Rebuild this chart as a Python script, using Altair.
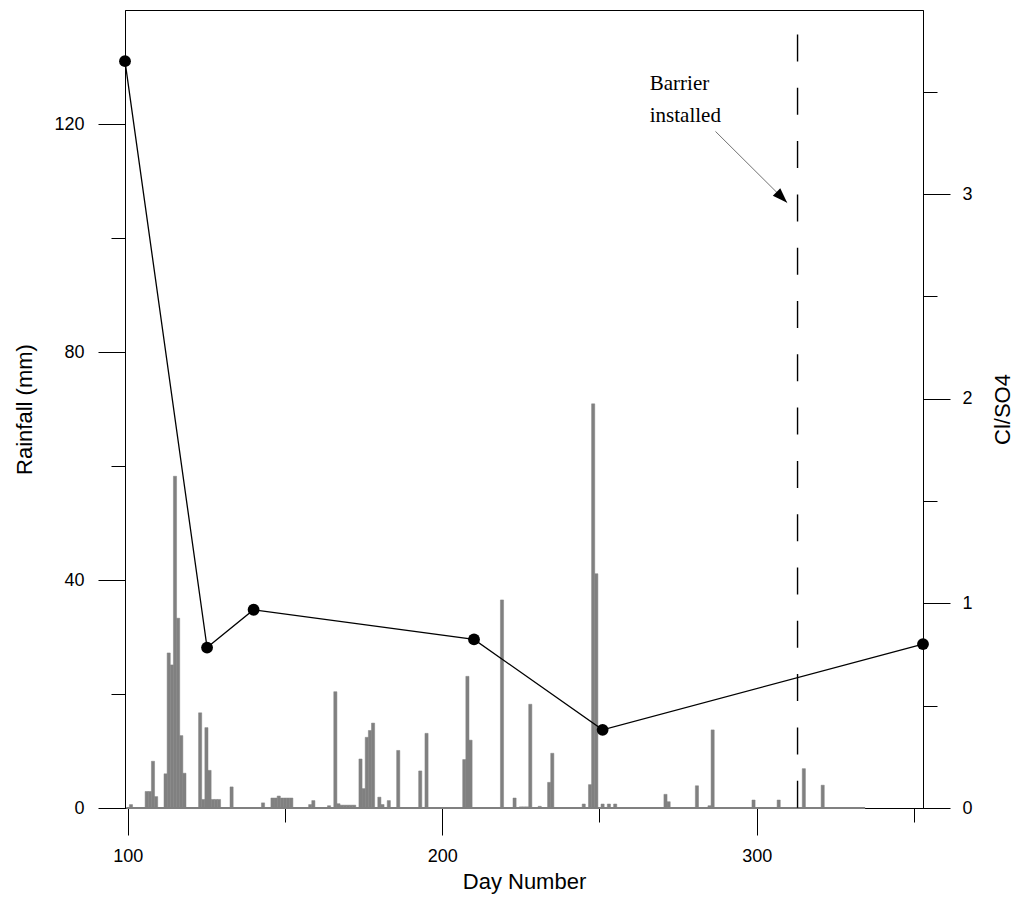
import altair as alt
import pandas as pd

# ---------------- data ----------------
rain_days = [101, 106, 107, 108, 109, 112, 113, 114, 115, 116, 117, 118,
             123, 124, 125, 126, 127, 128, 129, 133, 143, 146, 147, 148,
             149, 150, 151, 152, 158, 159, 164, 166, 167, 168, 169, 170,
             171, 172, 174, 175, 176, 177, 178, 180, 181, 183, 186, 193,
             195, 207, 208, 209, 219, 223, 225, 226, 227, 228, 231, 234,
             235, 245, 247, 248, 249, 251, 253, 255, 271, 272, 281, 285,
             286, 299, 307, 315, 321]
rain_mm = [0.6, 2.9, 2.9, 8.2, 2.0, 6.0, 27.2, 25.1, 58.2, 33.3, 12.7, 6.1,
           16.7, 1.5, 14.1, 6.6, 1.5, 1.5, 1.5, 3.7, 0.9, 1.75, 1.75, 2.1,
           1.75, 1.75, 1.75, 1.75, 0.6, 1.3, 0.4, 20.4, 0.75, 0.5, 0.5, 0.5,
           0.5, 0.5, 8.6, 3.4, 12.4, 13.6, 14.9, 1.9, 0.6, 1.3, 10.1, 6.5,
           13.1, 8.5, 23.1, 11.9, 36.5, 1.75, 0.2, 0.2, 0.2, 18.2, 0.3, 4.5,
           9.6, 0.7, 4.1, 70.9, 41.1, 0.7, 0.7, 0.7, 2.4, 1.1, 3.9, 0.4,
           13.7, 1.4, 1.4, 6.9, 4.0]
record_days = [99.5, 334.5]          # extent of the daily rainfall record

ratio_days = [99.1, 125.2, 140.0, 210.1, 251.0, 352.9]
ratio_vals = [3.65, 0.784, 0.969, 0.824, 0.382, 0.801]

barrier_day = [313]
barrier_top = [135.7]
arrow_from = [286.9, 118.7]
arrow_to = [309.7, 106.2]
note_anchor = [266.0, 126.0]
note_text = "Barrier\ninstalled"

x_ticks = [100, 150, 200, 250, 300, 350]
rain_ticks = [0, 20, 40, 60, 80, 100, 120]
ratio_ticks = [0, 0.5, 1, 1.5, 2, 2.5, 3, 3.5]

X_DOMAIN = [99.1, 352.9]
RAIN_DOMAIN = [0, 140]
RATIO_DOMAIN = [0, 3.9]

# ---------------- frames ----------------
rain_df = pd.DataFrame({"day": rain_days, "rain": rain_mm})
ratio_df = pd.DataFrame({"day": ratio_days, "ratio": ratio_vals})
base_df = pd.DataFrame({"d0": [record_days[0]], "d1": [record_days[1]], "zero": [0]})
barrier_df = pd.DataFrame({"day": barrier_day, "top": barrier_top, "zero": [0]})
arrow_df = pd.DataFrame({"x0": [arrow_from[0]], "y0": [arrow_from[1]],
                         "x1": [arrow_to[0]], "y1": [arrow_to[1]]})
note_df = pd.DataFrame({"day": [note_anchor[0]], "rain": [note_anchor[1]], "txt": [note_text]})

SANS = "Liberation Sans"
SERIF = "Liberation Serif"
GRAY = "#808080"

xscale = alt.Scale(domain=X_DOMAIN, nice=False, zero=False)
rscale = alt.Scale(domain=RAIN_DOMAIN, nice=False)
qscale = alt.Scale(domain=RATIO_DOMAIN, nice=False)

xaxis = alt.Axis(
    values=x_ticks, title="Day Number", grid=False, orient="bottom",
    labelExpr="datum.value % 100 === 0 ? '' + datum.value : ''",
    tickSize={"condition": {"test": "datum.value % 100 === 0", "value": 27}, "value": 14},
    labelPadding=12, titlePadding=6,
)
raxis = alt.Axis(
    values=rain_ticks, title="Rainfall (mm)", grid=False, orient="left",
    labelExpr="datum.value % 40 === 0 ? '' + datum.value : ''",
    tickSize={"condition": {"test": "datum.value % 40 === 0", "value": 27}, "value": 14},
    labelPadding=14, titlePadding=17,
)
qaxis = alt.Axis(
    values=ratio_ticks, title="Cl/SO4", grid=False, orient="right",
    labelExpr="datum.value % 1 === 0 ? '' + datum.value : ''",
    tickSize={"condition": {"test": "datum.value % 1 === 0", "value": 27}, "value": 14},
    labelPadding=12, titlePadding=20, titleAngle=270, titleBaseline="top",
)


def X(field):
    return alt.X(field, scale=xscale, axis=xaxis)


def YR(field):
    return alt.Y(field, scale=rscale, axis=raxis)


def YQ(field):
    return alt.Y(field, scale=qscale, axis=qaxis)


bars = alt.Chart(rain_df).transform_calculate(
    x0="datum.day - 0.5", x1="datum.day + 0.5", z="0"
).mark_rect(color=GRAY, stroke=GRAY, strokeWidth=0.5).encode(
    x=X("x0:Q"), x2="x1:Q", y=YR("rain:Q"), y2="z:Q",
)

baseline = alt.Chart(base_df).mark_rule(color=GRAY, strokeWidth=2).encode(
    x=X("d0:Q"), x2="d1:Q", y=YR("zero:Q"),
)

barrier = alt.Chart(barrier_df).mark_rule(
    color="black", strokeWidth=1.4, strokeDash=[27, 26.3]
).encode(
    x=X("day:Q"), y=YR("top:Q"), y2="zero:Q",
)

arrow_line = alt.Chart(arrow_df).mark_rule(color="#707070", strokeWidth=1).encode(
    x=X("x0:Q"), y=YR("y0:Q"), x2="x1:Q", y2="y1:Q",
)

arrow_head = alt.Chart(arrow_df).mark_point(
    shape="M0,0L-0.7,2L0.7,2Z", filled=True, color="black", opacity=1,
    size=225, angle=135, strokeWidth=0,
).encode(
    x=X("x1:Q"), y=YR("y1:Q"),
)

note = alt.Chart(note_df).mark_text(
    font=SERIF, fontSize=21, align="left", baseline="alphabetic",
    lineBreak="\n", lineHeight=32, color="black",
).encode(
    x=X("day:Q"), y=YR("rain:Q"), text="txt:N",
)

rain_group = alt.layer(bars, baseline, barrier, arrow_line, arrow_head, note)

ratio_line = alt.Chart(ratio_df).mark_line(color="black", strokeWidth=1.3).encode(
    x=X("day:Q"), y=YQ("ratio:Q"),
)
ratio_pts = alt.Chart(ratio_df).mark_point(
    filled=True, color="black", opacity=1, size=140
).encode(
    x=X("day:Q"), y=YQ("ratio:Q"),
)
ratio_group = alt.layer(ratio_line, ratio_pts)

chart = alt.layer(rain_group, ratio_group).resolve_scale(
    y="independent"
).resolve_axis(y="independent").properties(
    width=798, height=798,
    autosize=alt.AutoSizeParams(type="none"),
    padding={"left": 125, "top": 10, "right": 97, "bottom": 99},
    background="white",
).configure_view(
    stroke="black", strokeWidth=1
).configure_axis(
    domainColor="black", tickColor="black", labelColor="black", titleColor="black",
    labelFont=SANS, titleFont=SANS, labelFontSize=18, titleFontSize=22,
    titleFontWeight="normal", domainWidth=1, tickWidth=1,
)

chart.save("out.html", embed_options={"renderer": "svg", "actions": False})
